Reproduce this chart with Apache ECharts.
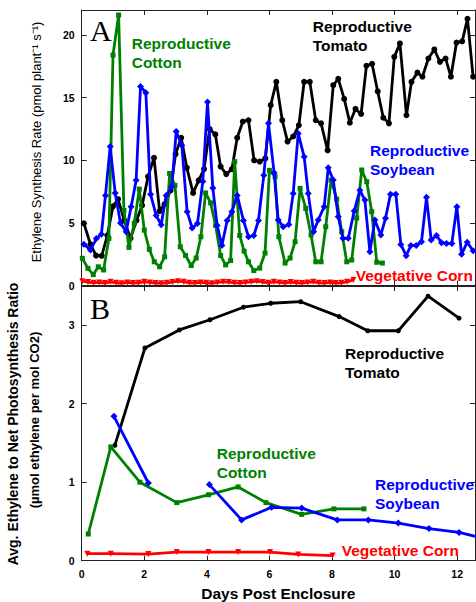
<!DOCTYPE html>
<html><head><meta charset="utf-8">
<script src="https://cdn.jsdelivr.net/npm/echarts/dist/echarts.min.js"></script>
<style>html,body{margin:0;padding:0;background:#fff}#c{width:476px;height:602px}</style>
</head><body><div id="c"></div>
<script>
// ---------- Panel A : ethylene synthesis rate (pmol plant-1 s-1) vs day ----------
const tomatoA = [[0.07,4.97],[0.28,3.3],[0.46,2.4],[0.64,2.38],[0.82,4.0],[1.0,6.33],[1.16,6.9],[1.36,5.2],[1.56,3.77],[1.75,5.2],[1.93,6.4],[2.12,8.7],[2.31,10.2],[2.49,5.95],[2.65,6.5],[2.84,7.6],[3.0,10.5],[3.18,11.8],[3.36,9.4],[3.56,7.4],[3.74,8.4],[3.91,9.3],[4.09,12.5],[4.27,12.07],[4.44,9.5],[4.62,8.9],[4.8,9.3],[4.97,11.8],[5.15,13.1],[5.33,13.2],[5.51,10.0],[5.69,9.9],[5.87,10.15],[6.04,14.4],[6.22,16.27],[6.41,13.2],[6.58,11.5],[6.76,11.9],[6.94,12.8],[7.11,16.27],[7.29,16.27],[7.48,13.2],[7.65,12.95],[7.86,10.8],[8.04,16.0],[8.2,16.5],[8.39,14.9],[8.57,13.0],[8.75,14.1],[8.93,13.7],[9.1,17.55],[9.28,17.7],[9.46,15.5],[9.64,13.4],[9.82,12.95],[9.99,18.26],[10.17,19.33],[10.38,13.6],[10.54,16.27],[10.73,17.0],[10.89,16.67],[11.08,18.13],[11.27,18.85],[11.45,17.86],[11.63,18.13],[11.8,16.67],[11.98,19.4],[12.16,19.5],[12.33,21.3],[12.51,16.67]];
const cottonA = [[0.02,2.18],[0.2,1.38],[0.37,0.88],[0.53,1.5],[0.7,1.25],[0.87,3.77],[1.0,18.4],[1.18,21.6],[1.35,6.0],[1.51,3.05],[1.68,4.97],[1.84,7.7],[2.0,4.43],[2.16,2.9],[2.32,1.9],[2.49,1.5],[2.65,2.3],[2.81,8.95],[2.98,8.0],[3.15,3.1],[3.32,2.4],[3.5,1.6],[3.66,2.2],[3.81,3.9],[3.96,7.4],[4.12,6.6],[4.28,4.8],[4.44,2.4],[4.6,1.65],[4.76,2.0],[4.89,9.9],[5.05,4.0],[5.19,2.75],[5.33,1.9],[5.5,1.2],[5.69,1.4],[5.86,2.6],[6.0,9.2],[6.18,8.7],[6.3,3.9],[6.5,1.8],[6.66,2.2],[6.82,3.5],[6.98,7.76],[7.16,6.16],[7.33,4.04],[7.48,1.9],[7.65,1.9],[7.8,4.7],[7.97,8.42],[8.15,6.9],[8.31,4.3],[8.47,1.9],[8.63,2.04],[8.79,5.4],[8.95,9.23],[9.11,8.29],[9.27,5.9],[9.43,1.86],[9.61,1.8]];
const soybeanA = [[0.07,3.3],[0.28,2.85],[0.47,3.75],[0.63,4.1],[0.76,7.2],[0.91,11.1],[1.07,7.4],[1.24,5.0],[1.42,4.3],[1.58,6.3],[1.74,8.4],[1.88,15.9],[2.05,15.4],[2.2,7.3],[2.38,5.6],[2.54,4.85],[2.7,7.2],[2.88,7.9],[3.02,12.3],[3.2,11.2],[3.37,5.9],[3.53,4.6],[3.7,4.95],[3.87,8.3],[4.02,14.65],[4.19,7.8],[4.33,4.8],[4.48,3.2],[4.65,5.2],[4.8,5.9],[4.97,7.2],[5.17,5.2],[5.33,3.9],[5.5,4.0],[5.65,5.2],[5.82,8.8],[5.97,12.95],[6.15,9.0],[6.28,5.24],[6.44,4.7],[6.62,4.88],[6.76,7.36],[6.92,12.15],[7.11,10.28],[7.24,7.36],[7.41,4.3],[7.56,5.24],[7.75,6.3],[7.88,9.4],[8.04,8.42],[8.2,5.5],[8.35,3.77],[8.52,3.77],[8.71,5.95],[8.89,7.62],[9.05,6.83],[9.21,2.7],[9.37,5.24],[9.56,4.04],[9.71,5.37],[9.87,7.3],[10.04,7.3],[10.2,3.29],[10.37,2.39],[10.52,3.2],[10.69,3.2],[10.86,3.5],[11.02,7.05],[11.17,3.64],[11.34,4.0],[11.5,3.43],[11.66,3.37],[11.83,3.37],[11.99,6.3],[12.14,2.5],[12.32,3.46],[12.51,2.78]];
const cornA = [[0.02,0.35],[0.2,0.28],[0.38,0.22],[0.56,0.25],[0.74,0.2],[0.92,0.3],[1.1,0.22],[1.28,0.18],[1.46,0.25],[1.64,0.2],[1.82,0.22],[2.0,0.3],[2.18,0.25],[2.36,0.2],[2.54,0.18],[2.72,0.22],[2.9,0.28],[3.08,0.35],[3.26,0.3],[3.44,0.22],[3.62,0.2],[3.8,0.25],[3.98,0.22],[4.16,0.18],[4.34,0.25],[4.52,0.3],[4.7,0.28],[4.88,0.22],[5.06,0.2],[5.24,0.25],[5.42,0.3],[5.6,0.35],[5.78,0.28],[5.96,0.22],[6.14,0.3],[6.32,0.25],[6.5,0.2],[6.68,0.28],[6.86,0.22],[7.04,0.2],[7.22,0.25],[7.4,0.3],[7.58,0.22],[7.76,0.2],[7.94,0.25],[8.12,0.2],[8.3,0.22],[8.48,0.3],[8.68,0.45]];

// ---------- Panel B : avg ethylene / net photosynthesis ratio ----------
const tomatoB = [[1.06,1.47],[2.02,2.71],[3.12,2.94],[4.1,3.07],[5.17,3.23],[6.04,3.28],[7.0,3.3],[8.23,3.11],[9.14,2.93],[10.12,2.93],[11.07,3.37],[12.06,3.09]];
const cottonB = [[0.21,0.34],[0.93,1.45],[1.86,1.0],[3.04,0.74],[4.05,0.84],[5.0,0.94],[5.89,0.74],[7.03,0.59],[8.06,0.66],[9.02,0.66]];
const soybeanB1 = [[1.03,1.84],[2.13,0.99]];
const soybeanB2 = [[4.08,0.97],[5.11,0.52],[6.07,0.68],[7.03,0.67],[8.17,0.52],[9.16,0.52],[10.12,0.48],[11.1,0.41],[12.06,0.36],[13.0,0.27]];
const cornB = [[0.18,0.09],[0.93,0.09],[2.13,0.085],[3.04,0.11],[4.05,0.11],[5.0,0.11],[6.02,0.11],[6.92,0.08],[8.02,0.065]];

// ---------- axes ----------
const xTicks = [0, 2, 4, 6, 8, 10, 12];
const yTicksA = [0, 5, 10, 15, 20];
const yTicksB = [0, 1, 2, 3];
const X_MAX = 12.57, YA_MAX = 22, YB_MAX = 3.5;

const FONT = '"Liberation Sans", Arial, sans-serif';
const SERIF = '"Liberation Serif", "Times New Roman", serif';
const C = {tomato:'#000000', cotton:'#008000', soy:'#0000ff', corn:'#ff0000'};

const axisLine = {show:true, onZero:false, lineStyle:{color:'#222', width:1}};
const tick = {show:true, inside:true, length:5, lineStyle:{color:'#222', width:1}};
function xAx(grid, pos, labels){
  return {type:'value', gridIndex:grid, position:pos, min:0, max:X_MAX, interval:2,
    axisLine, axisTick:tick, splitLine:{show:false},
    axisLabel:{show:labels, showMaxLabel:false, color:'#000', fontFamily:FONT, fontWeight:'bold', fontSize:10.5, margin:8,
      formatter:v => xTicks.includes(v) ? String(v) : ''}};
}
function yAx(grid, pos, max, ticks, labels){
  return {type:'value', gridIndex:grid, position:pos, min:0, max:max, interval:ticks[1]-ticks[0],
    axisLine, axisTick:tick, splitLine:{show:false},
    axisLabel:{show:labels, showMaxLabel:false, color:'#000', fontFamily:FONT, fontWeight:'bold', fontSize:10.5, margin:7,
      formatter:v => ticks.includes(v) ? String(v) : ''}};
}
function ser(data, xi, yi, color, symbol, size, rot, z){
  return {type:'line', xAxisIndex:xi, yAxisIndex:yi, data:data, symbol:symbol, symbolSize:size, symbolRotate:rot||0,
    showAllSymbol:true, clip:true, z:z, animation:false,
    lineStyle:{color:color, width:2.8}, itemStyle:{color:color}};
}
function txt(x, y, s, color, font, align){
  return {type:'text', x:x, y:y, silent:true, z:100,
    style:{text:s, fill:color, font:font, align:align||'left', verticalAlign:'middle'}};
}
const ANNOT = 'bold 15.5px ' + FONT;

const chart = echarts.init(document.getElementById('c'), null, {renderer:'svg'});
chart.setOption({
  backgroundColor:'#fff',
  animation:false,
  grid:[
    {left:81.7, top:10, width:393.3, height:275.6},
    {left:81.7, top:286, width:393.3, height:274.7}
  ],
  xAxis:[xAx(0,'bottom',false), xAx(0,'top',false), xAx(1,'bottom',true), xAx(1,'top',false)],
  yAxis:[yAx(0,'left',YA_MAX,yTicksA,true), yAx(0,'right',YA_MAX,yTicksA,false),
         yAx(1,'left',YB_MAX,yTicksB,true), yAx(1,'right',YB_MAX,yTicksB,false)],
  series:[
    ser(tomatoA,0,0,C.tomato,'circle',6,0,2),
    ser(cottonA,0,0,C.cotton,'rect',5,0,3),
    ser(soybeanA,0,0,C.soy,'diamond',7,0,4),
    ser(cornA,0,0,C.corn,'triangle',6,180,5),
    ser(tomatoB,2,2,C.tomato,'circle',5,0,2),
    ser(cottonB,2,2,C.cotton,'rect',5,0,3),
    ser(soybeanB1,2,2,C.soy,'diamond',7,0,4),
    ser(soybeanB2,2,2,C.soy,'diamond',7,0,4),
    ser(cornB,2,2,C.corn,'triangle',6,180,5)
  ],
  graphic:[
    txt(90, 30, 'A', '#000', '30px ' + SERIF),
    txt(131.7, 43, 'Reproductive', C.cotton, ANNOT),
    txt(131.7, 62, 'Cotton', C.cotton, ANNOT),
    txt(312.7, 26, 'Reproductive', C.tomato, ANNOT),
    txt(312.7, 45.5, 'Tomato', C.tomato, ANNOT),
    txt(370, 150, 'Reproductive', C.soy, ANNOT),
    txt(370, 169, 'Soybean', C.soy, ANNOT),
    txt(355.7, 275.5, 'Vegetative Corn', C.corn, ANNOT),
    txt(90, 308, 'B', '#000', '30px ' + SERIF),
    txt(345, 353, 'Reproductive', C.tomato, ANNOT),
    txt(345, 372, 'Tomato', C.tomato, ANNOT),
    txt(216.7, 453, 'Reproductive', C.cotton, ANNOT),
    txt(216.7, 472.5, 'Cotton', C.cotton, ANNOT),
    txt(375, 484, 'Reproductive', C.soy, ANNOT),
    txt(375, 503, 'Soybean', C.soy, ANNOT),
    txt(341.7, 550, 'Vegetative Corn', C.corn, ANNOT),
    txt(278.3, 593, 'Days Post Enclosure', '#000', 'bold 15.5px ' + FONT, 'center'),
    {type:'text', x:36, y:142, rotation:Math.PI/2, silent:true,
      style:{text:'Ethylene Synthesis Rate (pmol plant\u207B\u00B9 s\u207B\u00B9)', fill:'#000', font:'13px ' + FONT, align:'center', verticalAlign:'middle'}},
    {type:'text', x:13, y:424, rotation:Math.PI/2, silent:true,
      style:{text:'Avg. Ethylene to Net Photosynthesis Ratio', fill:'#000', font:'bold 14px ' + FONT, align:'center', verticalAlign:'middle'}},
    {type:'text', x:34, y:420, rotation:Math.PI/2, silent:true,
      style:{text:'(\u00B5mol ethylene per mol CO2)', fill:'#000', font:'bold 13px ' + FONT, align:'center', verticalAlign:'middle'}}
  ]
});
</script>
</body></html>
